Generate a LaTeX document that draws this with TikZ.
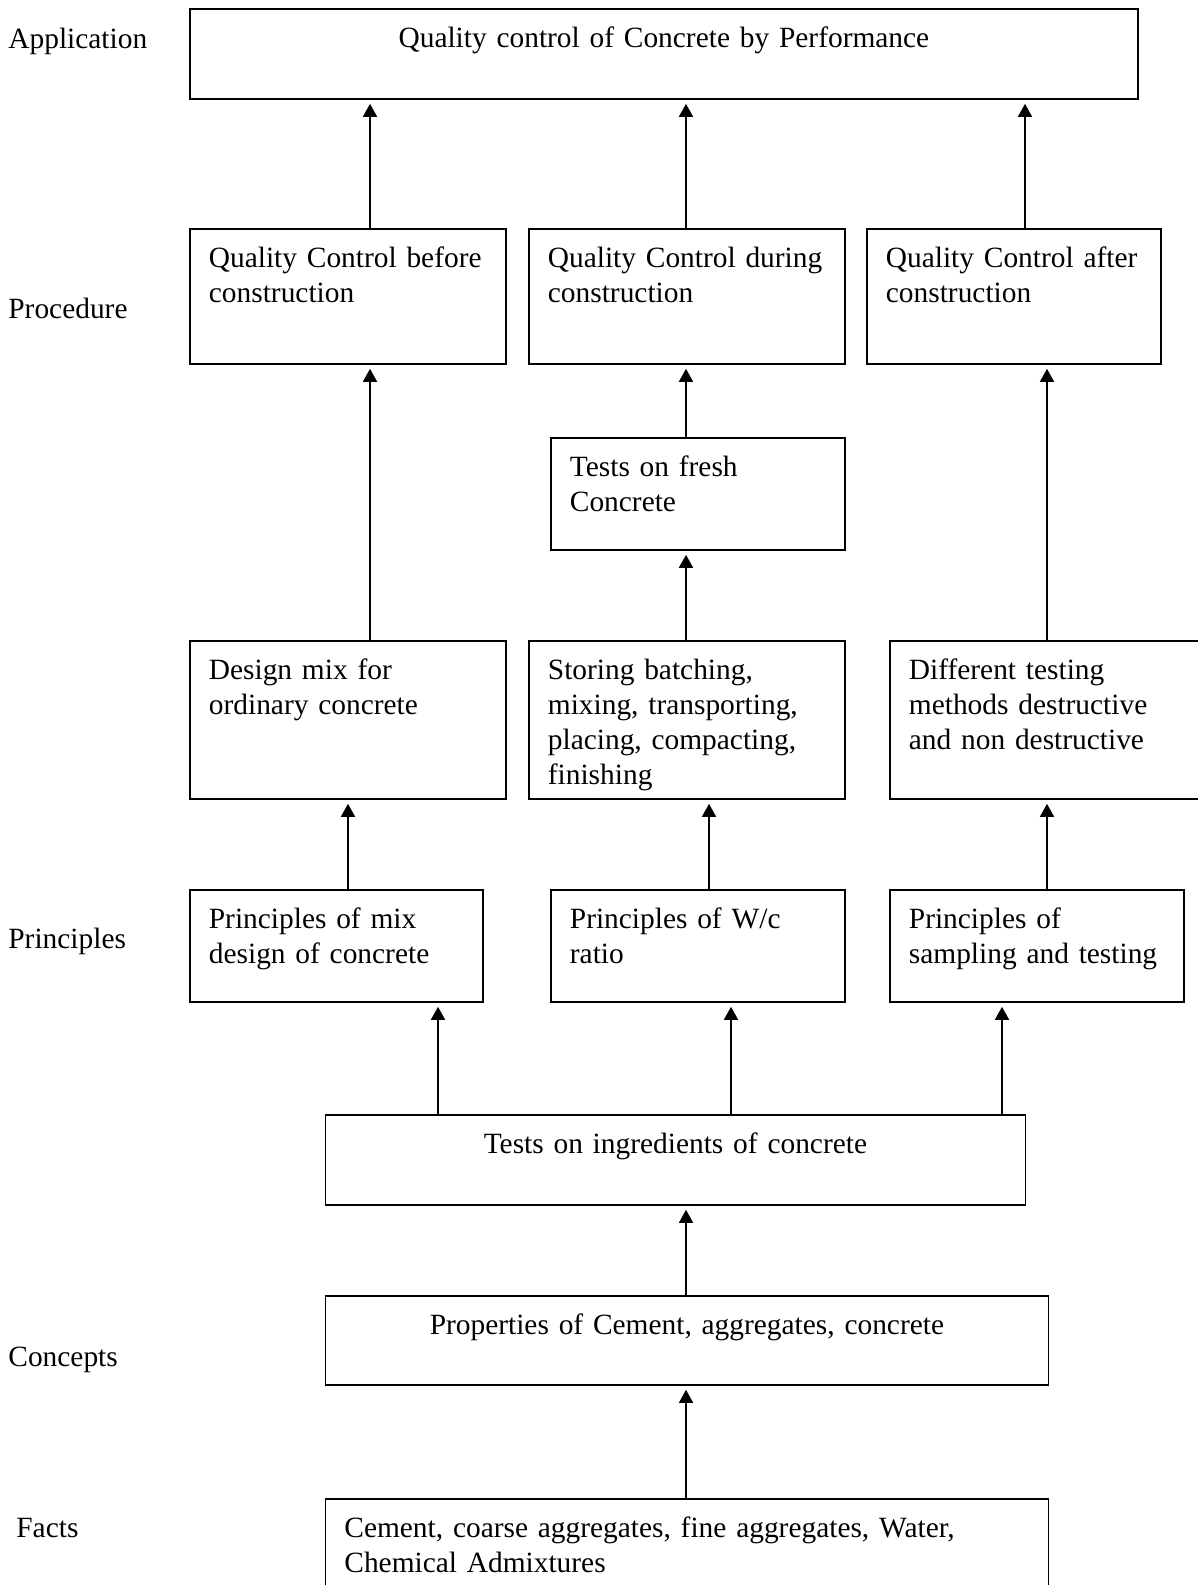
\documentclass[tikz,border=0pt]{standalone}
\usepackage{fontspec}
\setmainfont{Liberation Serif}
\usetikzlibrary{arrows.meta}
\hyphenpenalty=10000
\exhyphenpenalty=10000

\begin{document}
\begin{tikzpicture}[
      x=0.5pt, y=-0.5pt,
      every node/.style={font=\fontsize{14.7}{17.5}\selectfont},
      box/.style={draw, line width=0.9pt, anchor=north west, align=left,
                  inner xsep=9.5pt, inner ysep=0pt, text height=19.5pt},
      cbox/.style={box, align=center},
      level/.style={anchor=base west, inner sep=0pt},
      arrow/.style={-{Triangle[length=6.5pt,width=7pt]}, line width=0.8pt, shorten >=2pt}
    ]
        \useasboundingbox (0,0) rectangle (1198,1585);
        % levels
        \node[level] (lapp) at (8,48) {Application};
        \node[level] (lproc) at (8,318) {Procedure};
        \node[level] (lprin) at (8,948) {Principles};
        \node[level] (lconc) at (8,1366.5) {Concepts};
        \node[level] (lfact) at (16,1537.5) {Facts};
        % boxes
        \node[cbox, text width=455pt, text depth=25.5pt] (app) at (189,8) {Quality control of Concrete by Performance};
        \node[box, text width=139pt, text depth=48pt] (qcb) at (189,228) {Quality Control before\\construction};
        \node[box, text width=139pt, text depth=48pt] (qcd) at (528,228) {Quality Control during\\construction};
        \node[box, text width=128pt, text depth=48pt] (qca) at (866,228) {Quality Control after\\construction};
        \node[box, text width=128pt, text depth=36.5pt] (fresh) at (550,437) {Tests on fresh\\Concrete};
        \node[box, text width=139pt, text depth=59.5pt] (mix) at (189,640) {Design mix for\\ordinary concrete};
        \node[box, text width=139pt, text depth=59.5pt] (store) at (528,640) {Storing batching,\\mixing, transporting,\\placing, compacting,\\finishing};
        \node[box, text width=146pt, text depth=59.5pt] (ndt) at (889,640) {Different testing\\methods destructive\\and non destructive};
        \node[box, text width=127.5pt, text depth=36.5pt] (pmix) at (189,889) {Principles of mix\\design of concrete};
        \node[box, text width=128pt, text depth=36.5pt] (pwc) at (550,889) {Principles of W/c\\ratio};
        \node[box, text width=128pt, text depth=36.5pt] (psamp) at (889,889) {Principles of\\sampling and testing};
        \node[cbox, text width=331pt, text depth=25.5pt] (ingr) at (324.5,1114) {Tests on ingredients of concrete};
        \node[cbox, text width=342.5pt, text depth=25pt] (prop) at (324.5,1295) {Properties of Cement, aggregates, concrete};
        \node[box, text width=342.5pt, text depth=45.5pt] (facts) at (324.5,1498) {Cement, coarse aggregates, fine aggregates, Water,\\Chemical Admixtures};
        % arrow columns
        \foreach \n/\xx in {c1/370, c2/686, c3/1025, c4/1047, c5/348, c6/709, c7/438, c8/731, c9/1002}
          \coordinate (\n) at (\xx,0);
        \draw[arrow] (qcb.north -| c1) -- (app.south -| c1);
        \draw[arrow] (qcd.north -| c2) -- (app.south -| c2);
        \draw[arrow] (qca.north -| c3) -- (app.south -| c3);
        \draw[arrow] (mix.north -| c1) -- (qcb.south -| c1);
        \draw[arrow] (fresh.north -| c2) -- (qcd.south -| c2);
        \draw[arrow] (store.north -| c2) -- (fresh.south -| c2);
        \draw[arrow] (ndt.north -| c4) -- (qca.south -| c4);
        \draw[arrow] (pmix.north -| c5) -- (mix.south -| c5);
        \draw[arrow] (pwc.north -| c6) -- (store.south -| c6);
        \draw[arrow] (psamp.north -| c4) -- (ndt.south -| c4);
        \draw[arrow] (ingr.north -| c7) -- (pmix.south -| c7);
        \draw[arrow] (ingr.north -| c8) -- (pwc.south -| c8);
        \draw[arrow] (ingr.north -| c9) -- (psamp.south -| c9);
        \draw[arrow] (prop.north -| c2) -- (ingr.south -| c2);
        \draw[arrow] (facts.north -| c2) -- (prop.south -| c2);
\end{tikzpicture}
\end{document}
